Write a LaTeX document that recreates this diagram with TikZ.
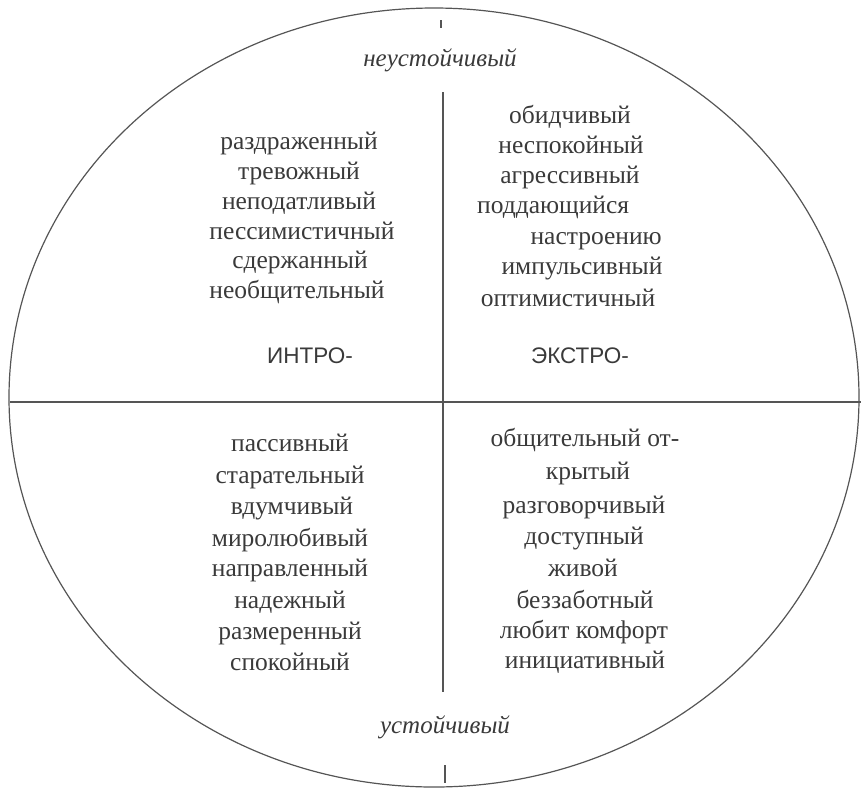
\documentclass[tikz,border=0pt]{standalone}
\usepackage{fontspec}
\setmainfont{Liberation Serif}
\newfontfamily\labsans{Liberation Sans}
\definecolor{inkc}{HTML}{3A3A3A}
\definecolor{linec}{HTML}{555555}
\begin{document}
\begin{tikzpicture}[x=1pt,y=-1pt,
  word/.style={inner sep=0pt,anchor=base,text=inkc,font=\fontsize{25.5}{30}\selectfont},
  axislab/.style={inner sep=0pt,anchor=base,text=inkc,font=\fontsize{25}{30}\selectfont\itshape},
  sidelab/.style={inner sep=0pt,anchor=base,text=inkc,font=\labsans\fontsize{22.5}{27}\selectfont},
  border/.style={draw=linec,line width=1.2pt},
  axis/.style={draw=linec,line width=1.3pt}]
\useasboundingbox (0,0) rectangle (861,788);
\draw[border] (434,397.5) ellipse [x radius=425, y radius=389.5];
\coordinate (hl) at (10,402);
\coordinate (hr) at (861,402);
\draw[axis,line width=1.8pt] (hl) -- (hr);
\coordinate (vt) at (443,92);
\coordinate (vb) at (443,692);
\draw[axis] (vt) -- (vb);
\coordinate (tt1) at (441,20);
\coordinate (tt2) at (441,28);
\draw[axis] (tt1) -- (tt2);
\coordinate (bt1) at (445,765);
\coordinate (bt2) at (445,783);
\draw[axis] (bt1) -- (bt2);

\node[axislab] (neust) at (440,66) {неустойчивый};
\node[axislab] (ust) at (445,733) {устойчивый};

\node[word] (ul1) at (299,149) {раздраженный};
\node[word] (ul2) at (299,179) {тревожный};
\node[word] (ul3) at (299,209) {неподатливый};
\node[word] (ul4) at (302,239) {пессимистичный};
\node[word] (ul5) at (300,268) {сдержанный};
\node[word] (ul6) at (297,298) {необщительный};
\node[sidelab] (intro) at (310,363) {ИНТРО-};

\node[word] (ur1) at (570,123) {обидчивый};
\node[word] (ur2) at (571,153) {неспокойный};
\node[word] (ur3) at (570,183) {агрессивный};
\node[word,anchor=base west] (ur4) at (477,213) {поддающийся};
\node[word,anchor=base east] (ur5) at (662,244) {настроению};
\node[word] (ur6) at (582,274) {импульсивный};
\node[word] (ur7) at (568,306) {оптимистичный};
\node[sidelab] (extro) at (580,363) {ЭКСТРО-};

\node[word] (ll1) at (290,451) {пассивный};
\node[word] (ll2) at (290,483) {старательный};
\node[word] (ll3) at (292,514) {вдумчивый};
\node[word] (ll4) at (290,546) {миролюбивый};
\node[word] (ll5) at (290,576) {направленный};
\node[word] (ll6) at (290,608) {надежный};
\node[word] (ll7) at (290,639) {размеренный};
\node[word] (ll8) at (290,670) {спокойный};

\node[word] (lr1) at (585,446) {общительный от-};
\node[word] (lr2) at (588,479) {крытый};
\node[word] (lr3) at (584,513) {разговорчивый};
\node[word] (lr4) at (584,544) {доступный};
\node[word] (lr5) at (583,576) {живой};
\node[word] (lr6) at (585,608) {беззаботный};
\node[word] (lr7) at (584,638) {любит комфорт};
\node[word] (lr8) at (585,668) {инициативный};
\end{tikzpicture}
\end{document}
